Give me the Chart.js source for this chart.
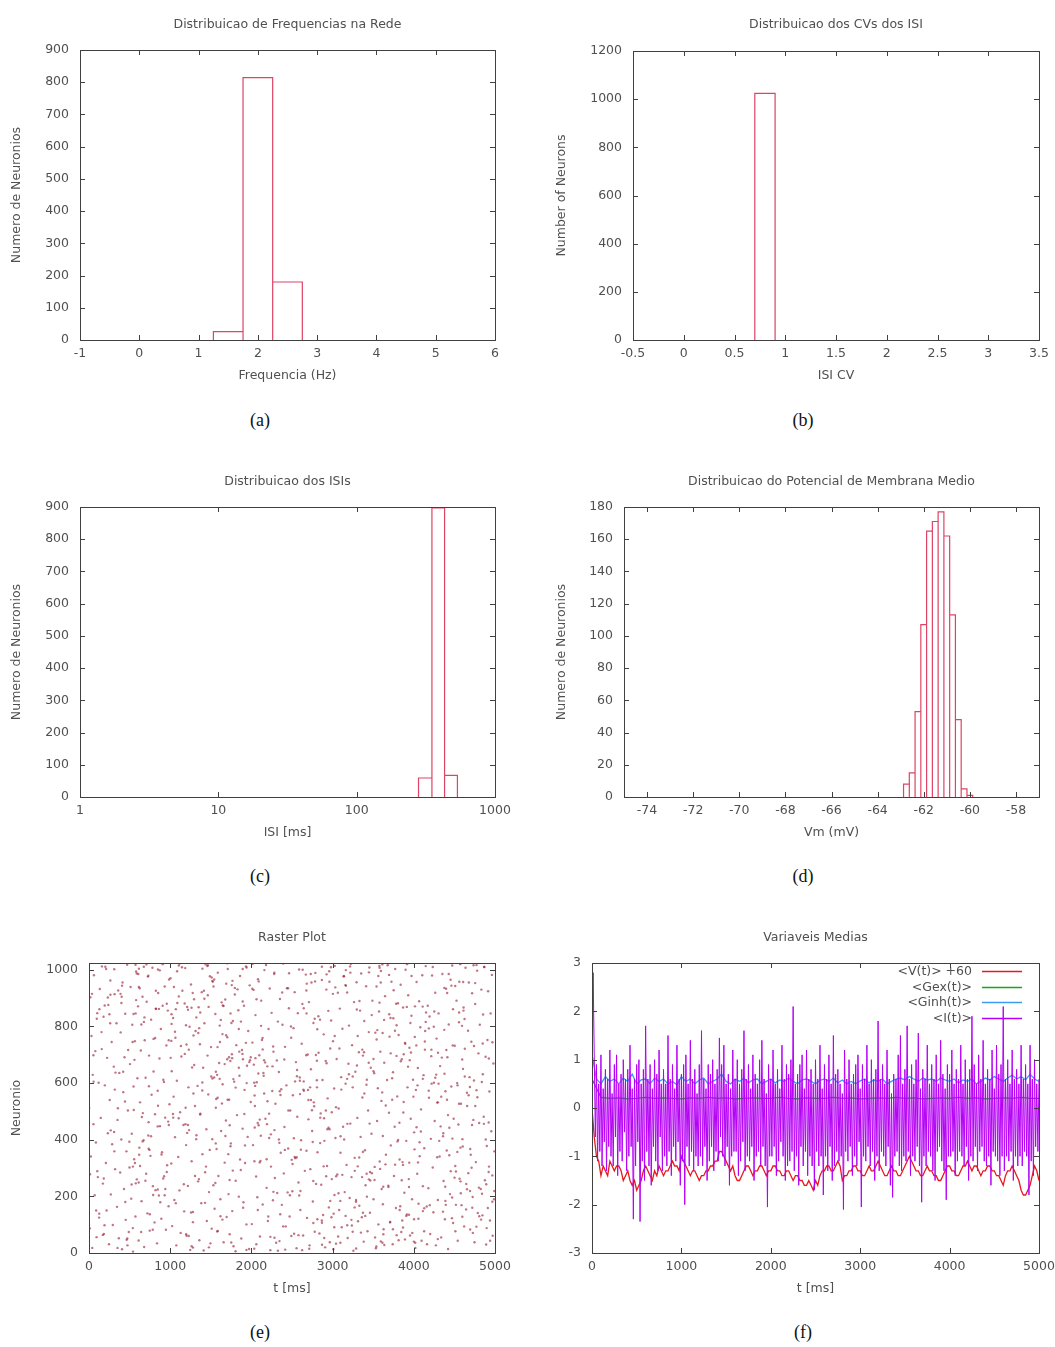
<!DOCTYPE html>
<html>
<head>
<meta charset="utf-8">
<title>Simulacao da Rede</title>
<script src="https://cdn.jsdelivr.net/npm/chart.js@4.4.1/dist/chart.umd.min.js"></script>
<style>
  body { margin: 0; background: #fff; }
  #page { position: relative; width: 1055px; height: 1347px; overflow: hidden; }
  canvas { position: absolute; }
  .caption {
    position: absolute; width: 80px; margin-left: -40px; text-align: center;
    font-family: 'Liberation Serif', 'DejaVu Serif', serif; font-size: 18px; line-height: 20px; color: #111;
  }
</style>
</head>
<body>
<div id="page">
  <canvas id="chartA" width="527" height="400" style="left:0;top:0"></canvas>
  <canvas id="chartB" width="528" height="400" style="left:527px;top:0"></canvas>
  <canvas id="chartC" width="527" height="400" style="left:0;top:456px"></canvas>
  <canvas id="chartD" width="528" height="400" style="left:527px;top:456px"></canvas>
  <canvas id="chartE" width="527" height="400" style="left:0;top:912px"></canvas>
  <canvas id="chartF" width="528" height="400" style="left:527px;top:912px"></canvas>
  <div class="caption" style="left:260px;top:410px">(a)</div>
  <div class="caption" style="left:803px;top:410px">(b)</div>
  <div class="caption" style="left:260px;top:866px">(c)</div>
  <div class="caption" style="left:803px;top:866px">(d)</div>
  <div class="caption" style="left:260px;top:1322px">(e)</div>
  <div class="caption" style="left:803px;top:1322px">(f)</div>
</div>
<script>
// Data: (a) firing rate histogram
const freqEdges = [1.25, 1.75, 2.25, 2.75];
const freqCounts = [26, 814, 180];
const freqTicksX = [-1, 0, 1, 2, 3, 4, 5, 6];
const freqTicksY = [0, 100, 200, 300, 400, 500, 600, 700, 800, 900];

// Data: (b) ISI CV histogram
const cvEdges = [0.7, 0.9];
const cvCounts = [1024];
const cvTicksX = [-0.5, 0, 0.5, 1, 1.5, 2, 2.5, 3, 3.5];
const cvTicksY = [0, 200, 400, 600, 800, 1000, 1200];

// Data: (c) ISI histogram (log x)
const isiEdges = [280, 350, 432, 535];
const isiCounts = [59, 897, 67];
const isiTicksX = [1, 10, 100, 1000];
const isiTicksY = [0, 100, 200, 300, 400, 500, 600, 700, 800, 900];

// Data: (d) mean membrane potential histogram
const vmEdges = [-62.875, -62.625, -62.375, -62.125, -61.875, -61.625, -61.375,
                 -61.125, -60.875, -60.625, -60.375, -60.125, -59.875];
const vmCounts = [8, 15, 53, 107, 165, 171, 177, 162, 113, 48, 5, 1];
const vmTicksX = [-74, -72, -70, -68, -66, -64, -62, -60, -58];
const vmTicksY = [0, 20, 40, 60, 80, 100, 120, 140, 160, 180];

// Data: (e) raster plot (spike time ms, neuron index)
const rasterTimes = [
  2,10,17,23,31,40,46,55,61,70,78,85,93,102,109,118,126,133,145,157,
  171,179,184,195,201,208,217,223,232,238,246,255,263,269,279,285,293,305,311,322,
  338,345,351,360,367,373,384,390,398,407,413,422,431,437,446,452,461,470,479,490,
  505,512,520,527,533,542,549,556,565,572,580,589,596,604,611,620,629,638,647,659,
  672,679,686,697,704,710,719,725,734,740,748,757,765,771,781,787,795,807,813,824,
  838,846,852,861,868,874,885,891,899,908,914,923,932,938,947,953,962,971,980,991,
  1004,1013,1019,1024,1036,1042,1051,1059,1064,1075,1082,1088,1099,1106,1114,1122,1129,1138,1150,1163,
  1172,1180,1185,1196,1202,1209,1218,1224,1233,1239,1247,1256,1264,1270,1280,1286,1294,1306,1312,1323,
  1337,1344,1350,1359,1366,1372,1383,1389,1397,1406,1412,1421,1430,1436,1445,1451,1460,1469,1478,1489,
  1503,1511,1518,1524,1532,1541,1547,1556,1562,1571,1579,1586,1594,1603,1610,1619,1627,1634,1646,1658,
  1671,1678,1686,1695,1703,1709,1718,1726,1733,1741,1747,1758,1764,1772,1780,1788,1796,1806,1814,1823,
  1839,1845,1853,1860,1869,1875,1884,1892,1898,1909,1915,1922,1933,1939,1946,1954,1961,1972,1979,1992,
  2005,2012,2020,2026,2035,2043,2050,2058,2066,2073,2081,2089,2097,2105,2112,2121,2130,2139,2148,2160,
  2173,2180,2187,2196,2203,2211,2219,2226,2234,2241,2249,2257,2265,2272,2280,2289,2296,2305,2313,2326,
  2339,2346,2352,2361,2368,2375,2383,2391,2399,2407,2414,2423,2431,2438,2446,2453,2462,2471,2479,2490,
  2504,2511,2519,2526,2533,2541,2549,2556,2565,2572,2580,2588,2596,2603,2612,2619,2628,2637,2646,2658,
  2670,2678,2685,2694,2702,2709,2717,2726,2733,2740,2748,2757,2764,2773,2780,2788,2797,2806,2814,2825,
  2838,2845,2853,2860,2868,2876,2883,2891,2899,2908,2915,2923,2932,2939,2947,2954,2963,2971,2980,2991,
  3005,3013,3019,3027,3035,3042,3050,3058,3065,3074,3081,3089,3097,3105,3113,3121,3129,3137,3149,3160,
  3172,3179,3186,3195,3202,3210,3218,3225,3233,3240,3248,3256,3264,3272,3280,3288,3295,3305,3313,3324,
  3338,3345,3352,3360,3367,3374,3383,3390,3398,3406,3413,3422,3430,3437,3446,3453,3461,3470,3479,3490,
  3504,3512,3518,3526,3533,3541,3548,3557,3564,3572,3580,3588,3595,3604,3611,3619,3628,3636,3646,3657,
  3671,3678,3686,3694,3701,3709,3717,3725,3733,3740,3748,3756,3764,3771,3780,3787,3796,3805,3813,3825,
  3838,3846,3852,3861,3868,3875,3884,3891,3899,3907,3914,3923,3931,3938,3946,3954,3962,3971,3979,3990,
  4004,4012,4019,4026,4034,4042,4050,4057,4066,4073,4080,4089,4096,4104,4112,4120,4129,4137,4147,4159,
  4172,4179,4187,4194,4202,4210,4217,4225,4233,4241,4248,4257,4264,4272,4280,4288,4296,4305,4313,4324,
  4337,4345,4352,4360,4367,4375,4383,4390,4398,4406,4414,4422,4430,4438,4446,4453,4462,4470,4479,4491,
  4504,4511,4519,4526,4534,4541,4549,4557,4564,4572,4580,4588,4596,4603,4612,4620,4628,4637,4646,4657,
  4671,4678,4686,4694,4701,4709,4718,4725,4733,4741,4748,4756,4764,4772,4780,4788,4796,4805,4813,4824,
  4838,4845,4853,4861,4868,4876,4884,4891,4899,4907,4915,4922,4931,4938,4946,4954,4962,4971,4980,4993,
  4127,388,2950,1763,4802,615,3391,2208,96,1487,3876,2712,4561,1034,3120,251,1942,4389,707,2533,
  3655,1219,4940,482,2847,1690,3023,4276,159,2391,1105,3768,566,4613,2079,3417,872,1354,4031,2625,
  193,3310,1578,4720,2464,846,3982,1201,2769,4455,37,1845,3539,660,2982,4867,1429,2157,3716,525,
  4288,1006,2631,3891,318,1754,4576,2240,3164,749,1983,4109,2890,443,3625,1287,4991,2016,3456,915,
  2731,4644,1132,3273,574,2455,4018,1671,3807,232,2986,1395,4473,819,3542,2103,4897,1046,3179,1860,
  612,3958,2284,1519,4363,2807,88,3601,1941,4712,1263,3349,2561,730,4185,1618,2926,4536,356,3084,
  3823,1477,2675,4252,925,3107,1796,4829,2412,537,3689,1168,2035,4421,3237,683,1896,4058,2784,1320,
  2139,4695,402,3374,1563,2870,4147,1037,3516,2283,4783,790,1689,3020,4330,1415,2507,3929,128,2966,
  4472,1806,3247,675,2558,3788,1219,4924,2061,315,3465,1644,4003,2734,958,3142,4606,1511,2318,3871,
  1106,3044,4378,2192,588,3708,1932,4840,2599,1370,3290,764,4215,2037,3593,1257,4691,2811,464,3950,
  2492,795,4071,1648,3329,4757,1085,2921,3744,540,2268,4510,1441,3182,4967,861,2046,3576,1715,4298,
  3201,1533,4598,2344,676,3852,1974,4163,2677,1190,3423,548,4886,2137,3068,1778,4430,958,2702,3634,
  745,2867,4246,1396,3637,2011,4922,1229,3289,580,2563,4052,1893,3743,2349,1017,4655,2936,1542,3460,
  4151,2218,847,3563,1724,4806,2609,399,3995,1281,3026,4519,2085,1463,3858,651,2780,4318,1890,3215,
  1637,3789,2452,4967,1014,3098,4483,1805,2644,3941,731,2198,4112,1357,3373,2926,573,4771,2041,3578,
  2869,560,3944,1743,4297,2379,1196,3616,4892,2116,849,3271,4655,1583,2755,4014,1264,3503,2271,4608,
  407,2589,4184,3096,1473,3867,2030,4736,1188,3402,2488,4539,1732,3158,642,2917,4401,1921,3697,1069,
  3484,1871,2763,4628,975,3219,1556,4305,2416,3782,618,2169,4987,1305,3033,2580,4140,1680,3917,2358,
  1992,4437,3140,878,2723,4001,1623,3363,4849,2284,1145,3826,2645,499,4265,1829,3523,2990,1346,4579,
  3009,1421,4717,2538,3688,1059,4233,2812,1707,3445,4926,2090,785,3965,1561,2679,4394,3248,1913,624,
  4594,2355,1296,3752,2897,4087,1851,3328,607,2474,4675,1178,3594,2151,4502,1397,2848,3833,982,4046,
  1743,3972,2604,4409,1322,3180,2050,4863,823,3651,2233,4136,1609,3095,4772,2523,1069,3419,2794,4296,
  2961,1209,3867,4668,2102,3504,1458,4197,2746,3914,940,2405,4574,1767,3232,2641,4968,1495,3713,2078,
  4359,2827,1657,3586,4111,1117,2971,3734,2338,4756,1586,3309,2496,4219,1893,3624,2156,4484,1277,3042,
  1505,3447,211,4034,3160,823,2697,1752,3895,541,4411,1368,3073,645,2260,1939,3799,614,4912,1613,
  3331,472,4557,815,3770,986,4128,1520,3482,309,4727,1702,3163,576,4338,1845,3941,735,4463,57,
  2188,261,3619,1464,2895,695,3387,2063,170,1584,3550,932,4850,268,3696,1643,54,3298,474,4599,
  3813,983,4376,125,2597,1016,1771,351,4741,850,3579,1902,312,3004,421,4512,663,2119,182,3448,
  4693,326,2326,907,4475,1760,3613,102,2039,1280,4625,497,2682,1229,3840,551,4387,154,2868,893,
  1567,4832,629,3300,191,4558,1733,2958,447,3366,14,2808,1702,3614,1195,4009,264,3908,738,2762
];
const rasterNeurons = [
  512,87,903,341,766,18,629,455,981,204,713,390,56,847,268,601,139,932,477,720,
  245,834,67,592,1011,318,150,689,423,876,31,540,962,207,745,384,99,658,1002,296,
  811,163,470,927,52,636,284,779,401,13,955,568,226,691,845,117,359,1018,503,74,
  667,939,192,421,806,5,588,331,748,129,994,260,617,871,44,372,532,715,183,905,
  398,21,751,619,280,887,140,976,462,697,79,343,824,559,1007,236,641,108,490,862,
  34,573,918,203,687,448,791,121,356,1020,263,604,941,478,82,733,310,856,165,525,
  970,316,642,95,830,552,187,409,760,27,608,883,339,1015,221,497,71,694,926,452,
  147,703,1006,381,61,869,237,585,434,799,11,948,324,655,109,563,896,272,784,416,
  590,253,868,45,737,492,176,921,349,654,9,811,285,1019,437,113,697,560,215,977,
  727,86,402,958,239,620,156,844,513,367,76,990,272,671,803,130,431,885,596,38,
  319,895,468,127,762,1003,208,541,66,678,387,946,148,819,24,605,913,255,734,487,
  857,199,626,978,293,51,717,439,160,873,576,318,1012,101,661,410,784,14,945,533,
  102,743,381,929,15,519,840,270,603,197,967,451,698,58,325,891,752,171,636,999,
  474,1017,230,659,113,791,406,934,57,305,848,572,186,711,985,265,527,36,680,817,
  639,42,897,354,578,170,806,1022,281,445,728,94,592,935,214,369,864,129,503,760,
  218,557,794,68,921,335,674,17,481,847,249,1001,620,152,398,739,879,62,573,290,
  983,361,124,701,540,886,27,296,649,955,431,182,812,518,75,989,244,610,356,836,
  69,824,493,241,964,611,134,772,396,20,678,930,307,546,855,161,437,722,1009,261,
  748,139,581,1014,406,33,685,277,919,510,152,863,354,621,91,792,446,977,215,598,
  311,920,53,668,803,194,457,1021,268,734,585,8,886,336,640,181,956,477,112,709,
  856,410,987,126,549,697,40,819,363,239,942,612,77,503,780,1008,286,654,421,891,
  190,635,304,778,17,941,466,582,101,853,323,711,996,226,567,413,84,672,907,347,
  611,1016,238,495,764,110,380,958,617,31,829,272,446,1003,159,696,553,882,45,330,
  947,74,684,321,867,533,213,742,1000,396,136,585,910,261,725,62,474,838,190,612,
  426,763,18,576,957,280,653,121,889,342,797,507,43,981,236,628,370,718,1013,164,
  873,229,548,835,67,403,718,980,302,144,601,466,919,27,757,531,187,846,396,660,
  55,690,985,412,254,788,119,571,933,362,691,14,807,442,208,965,588,123,733,474,
  732,307,170,891,600,43,454,815,262,1020,527,169,683,376,856,94,623,1007,244,519,
  282,955,621,83,347,746,917,198,470,609,38,879,321,575,997,141,705,459,806,226,
  604,133,842,481,1010,257,693,30,378,752,924,286,570,115,846,430,982,61,669,359,
  77,915,442,688,231,1004,563,129,827,364,702,15,958,491,276,843,600,184,1019,339,
  521,859,43,717,388,951,205,630,1012,94,476,785,318,867,152,594,998,261,733,10,
  874,306,629,160,988,447,71,736,532,289,915,654,23,394,821,1010,177,563,705,242,
  338,689,1000,48,577,812,253,419,944,137,681,870,306,535,66,768,219,1021,457,612,
  985,154,731,290,846,503,36,667,399,902,126,574,1015,222,754,471,88,939,615,330,
  249,812,54,961,423,679,150,537,1008,301,866,72,624,415,793,190,984,357,511,722,
  460,20,698,853,271,577,936,118,364,745,1023,243,601,487,97,832,684,174,959,402,
  719,367,905,142,640,29,816,478,258,990,550,205,769,91,447,926,314,658,861,38,
  196,584,75,1011,338,804,452,687,31,914,256,773,119,540,880,401,650,973,212,496,
  906,271,633,455,987,108,742,209,561,849,16,412,695,324,955,143,586,790,47,681,
  60,756,391,874,167,519,995,271,638,88,729,943,305,456,181,862,590,1014,349,707,
  631,941,128,389,816,257,674,31,927,513,199,844,401,759,58,614,985,286,472,823,
  364,115,799,602,28,933,461,718,187,893,646,320,1003,84,571,809,225,437,966,142,
  849,492,224,978,691,130,365,883,552,19,766,288,634,910,115,480,827,341,703,1012,
  528,63,935,274,749,412,861,6,606,233,979,536,148,794,357,670,1018,93,443,884,
  107,682,319,846,532,920,66,777,243,414,1001,161,566,727,392,871,24,685,216,957,
  944,203,573,36,869,311,665,1016,455,131,800,592,258,946,74,503,717,380,843,176,
  282,817,106,721,464,990,247,598,12,880,347,673,190,519,938,63,784,413,1020,558,
  691,345,977,179,585,40,823,268,740,434,1009,152,864,302,619,931,55,497,777,211,
  13,898,452,606,233,781,1010,119,541,672,305,959,82,708,387,846,170,623,491,935,
  802,137,664,928,53,429,711,337,985,204,557,881,41,626,266,1004,478,165,751,592,
  377,978,219,541,832,98,688,456,926,313,10,747,615,184,1017,405,861,280,699,49,
  958,424,90,785,320,642,1013,169,504,869,226,683,372,961,117,577,744,34,830,459,
  146,707,872,297,615,1022,184,541,401,953,78,766,329,598,888,234,681,106,918,515,
  623,260,1003,444,131,863,576,37,739,305,918,489,211,807,659,11,394,939,159,745,
  890,51,527,759,312,966,158,616,840,427,71,684,999,246,552,791,135,368,944,605,
  331,811,172,1016,476,255,709,896,64,548,787,204,631,433,982,118,698,860,27,402,
  770,452,936,125,608,843,291,18,731,520,1007,179,359,915,640,77,494,802,263,991,
  219,637,8,873,404,702,1019,289,556,145,826,393,951,60,677,505,234,780,1011,348,
  544,930,307,662,98,849,451,995,180,718,278,585,1023,36,804,366,912,131,589,254
];
const rasterTicksX = [0, 1000, 2000, 3000, 4000, 5000];
const rasterTicksY = [0, 200, 400, 600, 800, 1000];

// Data: (f) mean variables, each sampled every stepMs
const meanLabels = ['<V(t)> +60', '<Gex(t)>', '<Ginh(t)>', '<I(t)>'];
const meanVStepMs = 25;
const meanV = [
  0.0, -0.6, -1.0, -1.1, -1.4, -1.2, -1.3, -1.4,
  -1.1, -1.2, -1.3, -1.2, -1.2, -1.3, -1.5, -1.4,
  -1.3, -1.5, -1.6, -1.5, -1.7, -1.6, -1.5, -1.3,
  -1.2, -1.3, -1.4, -1.5, -1.3, -1.4, -1.2, -1.3,
  -1.4, -1.3, -1.3, -1.2, -1.1, -1.2, -1.2, -1.3,
  -1.0, -1.1, -1.2, -1.3, -1.4, -1.3, -1.3, -1.4,
  -1.5, -1.4, -1.4, -1.3, -1.3, -1.2, -1.2, -1.1,
  -1.1, -0.9, -0.9, -1.0, -1.1, -1.2, -1.3, -1.2,
  -1.4, -1.5, -1.5, -1.4, -1.3, -1.2, -1.2, -1.3,
  -1.4, -1.3, -1.3, -1.2, -1.2, -1.3, -1.4, -1.3,
  -1.3, -1.2, -1.2, -1.3, -1.3, -1.4, -1.4, -1.3,
  -1.3, -1.4, -1.5, -1.4, -1.4, -1.5, -1.5, -1.6,
  -1.6, -1.5, -1.6, -1.7, -1.5, -1.6, -1.4, -1.3,
  -1.3, -1.2, -1.2, -1.3, -1.3, -1.2, -1.1, -1.2,
  -1.5, -1.4, -1.4, -1.3, -1.3, -1.2, -1.2, -1.3,
  -1.3, -1.4, -1.4, -1.3, -1.2, -1.3, -1.3, -1.2,
  -1.1, -1.2, -1.3, -1.4, -1.4, -1.3, -1.2, -1.3,
  -1.3, -1.4, -1.4, -1.3, -1.2, -1.1, -1.0, -1.1,
  -1.2, -1.3, -1.3, -1.4, -1.4, -1.3, -1.2, -1.3,
  -1.3, -1.4, -1.4, -1.5, -1.5, -1.4, -1.3, -1.2,
  -1.2, -1.3, -1.3, -1.4, -1.4, -1.3, -1.2, -1.2,
  -1.1, -1.2, -1.3, -1.2, -1.2, -1.3, -1.4, -1.3,
  -1.3, -1.2, -1.2, -1.3, -1.3, -1.4, -1.4, -1.5,
  -1.6, -1.4, -1.3, -1.3, -1.2, -1.3, -1.4, -1.5,
  -1.7, -1.8, -1.8, -1.7, -1.6, -1.4, -1.2, -1.3,
  -1.5
];
const meanGexStepMs = 100;
const meanGex = [
  0.6, 0.22, 0.2, 0.21, 0.19, 0.2, 0.22, 0.2, 0.21, 0.2,
  0.19, 0.21, 0.2, 0.22, 0.2, 0.21, 0.19, 0.2, 0.21, 0.2,
  0.2, 0.22, 0.2, 0.19, 0.21, 0.2, 0.2, 0.22, 0.2, 0.21,
  0.19, 0.2, 0.21, 0.2, 0.22, 0.2, 0.21, 0.19, 0.2, 0.21,
  0.2, 0.22, 0.2, 0.21, 0.19, 0.2, 0.21, 0.2, 0.22, 0.2,
  0.2
];
const meanGinhStepMs = 50;
const meanGinh = [
  1.1, 0.6, 0.5, 0.65, 0.55, 0.6, 0.5, 0.62, 0.55, 0.7,
  0.5, 0.58, 0.6, 0.5, 0.62, 0.55, 0.6, 0.5, 0.55, 0.48,
  0.65, 0.55, 0.6, 0.5, 0.58, 0.62, 0.5, 0.55, 0.6, 0.7,
  0.55, 0.5, 0.6, 0.55, 0.62, 0.52, 0.58, 0.6, 0.5, 0.55,
  0.6, 0.52, 0.58, 0.55, 0.62, 0.55, 0.5, 0.58, 0.6, 0.55,
  0.5, 0.57, 0.6, 0.55, 0.62, 0.52, 0.58, 0.5, 0.55, 0.5,
  0.56, 0.6, 0.52, 0.58, 0.55, 0.6, 0.5, 0.55, 0.6, 0.62,
  0.58, 0.65, 0.6, 0.55, 0.62, 0.58, 0.6, 0.55, 0.62, 0.58,
  0.55, 0.6, 0.52, 0.58, 0.55, 0.6, 0.5, 0.55, 0.62, 0.58,
  0.65, 0.6, 0.55, 0.62, 0.68, 0.6, 0.65, 0.58, 0.7, 0.6,
  0.55
];
const meanIStepMs = 12.5;
const meanI = [
  0.2, 2.8, 1.1, -0.6, 0.9, -1.1, 0.5, -0.9, 1.1, -1.2, 0.4, -0.7, 0.8, -1.3, 0.6, -0.8,
  1.2, -1.0, 0.3, -1.2, 0.9, -0.6, 1.1, -1.4, 0.5, -0.9, 0.7, -1.1, 1.0, -0.5, 0.6, -1.3,
  0.8, -1.0, 1.3, -0.8, 0.4, -2.3, 0.6, -1.2, 0.9, -0.7, 1.0, -2.35, 0.5, -1.1, 0.8, -1.5,
  1.7, -0.9, 0.6, -1.2, 0.9, -1.6, 0.4, -0.8, 1.0, -1.1, 0.7, -1.3, 1.2, -0.6, 0.5, -1.3,
  0.8, -1.0, 0.5, -1.2, 1.5, -0.9, 0.6, -1.4, 0.9, -0.8, 0.4, -1.1, 1.3, -0.7, 0.6, -1.6,
  0.7, -1.1, 0.9, -2.0, 1.1, -0.8, 0.5, -1.2, 1.4, -0.9, 0.6, -1.3, 0.8, -1.0, 0.3, -1.2,
  0.9, -1.0, 1.6, -1.2, 0.6, -0.8, 0.4, -1.5, 0.9, -1.1, 0.7, -0.8, 1.0, -1.3, 0.5, -0.9,
  0.8, -1.1, 1.45, -0.6, 0.9, -1.0, 1.3, -1.2, 0.5, -0.8, 0.7, -1.6, 0.4, -1.0, 1.2, -0.9,
  0.6, -0.9, 1.0, -1.4, 0.5, -1.1, 0.8, -0.7, 1.6, -1.3, 0.6, -1.0, 0.9, -1.1, 0.4, -0.8,
  1.1, -1.5, 0.7, -1.0, 0.5, -0.9, 1.0, -1.2, 1.4, -0.8, 0.6, -1.2, 0.3, -2.05, 0.9, -1.0,
  0.6, -1.0, 1.2, -0.8, 0.5, -1.4, 0.8, -1.1, 0.4, -0.7, 1.3, -1.0, 0.6, -1.5, 0.9, -1.2,
  0.7, -1.1, 1.0, -0.9, 2.1, -1.3, 0.5, -1.0, 0.7, -1.6, 0.9, -0.8, 1.1, -1.2, 0.4, -0.9,
  1.2, -1.4, 0.6, -1.0, 0.8, -1.2, 0.5, -1.7, 1.0, -0.9, 0.6, -1.2, 1.3, -1.0, 0.4, -1.8,
  0.9, -1.0, 0.6, -1.3, 1.1, -0.8, 0.5, -1.5, 1.5, -1.2, 0.7, -0.9, 0.8, -1.1, 0.5, -1.0,
  0.3, -2.1, 1.2, -0.9, 0.6, -1.1, 1.0, -0.8, 0.5, -1.4, 0.7, -1.0, 0.9, -1.2, 1.1, -0.7,
  0.4, -2.05, 0.9, -1.0, 0.6, -1.1, 1.3, -0.8, 0.5, -1.2, 1.0, -0.9, 0.6, -1.5, 0.8, -1.0,
  1.8, -1.3, 0.6, -0.9, 0.9, -1.0, 0.5, -1.2, 1.2, -0.8, 0.6, -1.6, 0.3, -1.85, 0.7, -1.0,
  0.6, -0.9, 1.1, -1.2, 1.5, -1.3, 0.5, -1.0, 0.8, -1.1, 1.7, -0.9, 0.6, -1.4, 0.9, -1.0,
  0.5, -1.1, 1.0, -0.8, 1.55, -1.2, 0.4, -1.95, 0.8, -1.0, 0.6, -1.2, 1.3, -0.9, 0.5, -1.0,
  0.9, -1.3, 0.6, -1.5, 1.1, -0.9, 0.5, -0.8, 1.4, -1.1, 0.7, -1.3, 0.4, -1.9, 0.9, -1.0,
  0.7, -1.0, 1.2, -0.9, 0.5, -1.4, 0.8, -1.1, 0.6, -0.9, 1.3, -1.0, 0.5, -1.2, 1.0, -0.8,
  0.6, -1.5, 0.8, -1.0, 1.9, -1.1, 0.9, -0.8, 0.5, -1.3, 1.1, -0.9, 0.6, -0.8, 1.4, -1.1,
  0.5, -1.2, 0.8, -1.0, 0.6, -1.6, 1.2, -0.9, 0.4, -1.0, 1.3, -1.1, 0.7, -1.4, 0.9, -1.0,
  2.1, -1.3, 0.6, -1.0, 1.0, -1.1, 0.5, -0.9, 1.2, -1.5, 0.6, -1.0, 0.8, -1.2, 0.5, -1.0,
  1.3, -1.2, 0.6, -0.9, 0.9, -1.0, 0.5, -1.8, 1.3, -1.1, 0.6, -1.4, 1.0, -0.8, 0.5, -0.9,
  0.6
];
const meanTicksX = [0, 1000, 2000, 3000, 4000, 5000];
const meanTicksY = [-3, -2, -1, 0, 1, 2, 3];

// Styles
const FONT_FAMILY = "'DejaVu Sans', 'Liberation Sans', sans-serif";
const FONT_SIZE = 12.5;
const HALF_LINE = FONT_SIZE * 1.2 / 2;
const TEXT_COLOR = '#505050';
const FRAME_COLOR = '#404040';
const TICK_LEN = 5;
const HIST_RED = '#dd4466';
const RASTER_DOT = 'rgba(150, 25, 50, 0.6)';
const MEAN_COLORS = ['#e8191e', '#1aa31a', '#3b9cf0', '#b400f5'];
const MEAN_WIDTHS = [1.3, 1.3, 1.3, 1];

Chart.defaults.font.family = FONT_FAMILY;
Chart.defaults.font.size = FONT_SIZE;
Chart.defaults.color = TEXT_COLOR;

// Panel geometry (canvas coordinates)
const geoA = { width: 527, height: 400, plotLeft: 80, plotRight: 495, plotTop: 50, plotBottom: 340, titleY: 25, yTitleX: 17, xTitleY: 376 };
const geoB = { width: 528, height: 400, plotLeft: 106, plotRight: 512, plotTop: 51, plotBottom: 340, titleY: 25, yTitleX: 35, xTitleY: 376 };
const geoC = { width: 527, height: 400, plotLeft: 80, plotRight: 495, plotTop: 51, plotBottom: 341, titleY: 26, yTitleX: 17, xTitleY: 377 };
const geoD = { width: 528, height: 400, plotLeft: 97, plotRight: 512, plotTop: 51, plotBottom: 341, titleY: 26, yTitleX: 35, xTitleY: 377 };
const geoE = { width: 527, height: 400, plotLeft: 89, plotRight: 495, plotTop: 51, plotBottom: 341, titleY: 26, yTitleX: 17, xTitleY: 377 };
const geoF = { width: 528, height: 400, plotLeft: 65, plotRight: 512, plotTop: 51, plotBottom: 341, titleY: 26, yTitleX: 0, xTitleY: 377 };

// gnuplot-style border with inward ticks on all four sides
const gnuplotFrame = {
  id: 'gnuplotFrame',
  afterDatasetsDraw(chart) {
    const { ctx, chartArea: a, scales } = chart;
    ctx.save();
    ctx.strokeStyle = FRAME_COLOR;
    ctx.lineWidth = 1;
    ctx.beginPath();
    scales.x.ticks.forEach(t => {
      const px = Math.round(scales.x.getPixelForValue(t.value)) + 0.5;
      ctx.moveTo(px, a.bottom); ctx.lineTo(px, a.bottom - TICK_LEN);
      ctx.moveTo(px, a.top); ctx.lineTo(px, a.top + TICK_LEN);
    });
    scales.y.ticks.forEach(t => {
      const py = Math.round(scales.y.getPixelForValue(t.value)) + 0.5;
      ctx.moveTo(a.left, py); ctx.lineTo(a.left + TICK_LEN, py);
      ctx.moveTo(a.right, py); ctx.lineTo(a.right - TICK_LEN, py);
    });
    ctx.stroke();
    ctx.strokeRect(Math.round(a.left) + 0.5, Math.round(a.top) + 0.5,
                   Math.round(a.right - a.left), Math.round(a.bottom - a.top));
    ctx.restore();
  }
};

// Key inside the top-right corner: right-aligned text, then a line sample
const cornerKey = {
  id: 'cornerKey',
  afterDraw(chart) {
    const { ctx, chartArea: a } = chart;
    ctx.save();
    ctx.font = `${FONT_SIZE}px ${FONT_FAMILY}`;
    ctx.textAlign = 'right';
    ctx.textBaseline = 'middle';
    chart.data.datasets.forEach((ds, i) => {
      const y = Math.round(a.top + 8 + i * 15.7) + 0.5;
      ctx.fillStyle = TEXT_COLOR;
      ctx.fillText(ds.label, a.right - 67, y);
      ctx.strokeStyle = ds.borderColor;
      ctx.lineWidth = 1.5;
      ctx.beginPath();
      ctx.moveTo(a.right - 57, y);
      ctx.lineTo(a.right - 17, y);
      ctx.stroke();
    });
    ctx.restore();
  }
};

// Helpers
function boxOutline(edges, counts) {
  const pts = [];
  counts.forEach((c, i) => {
    pts.push({ x: edges[i], y: 0 }, { x: edges[i], y: c }, { x: edges[i + 1], y: c }, { x: edges[i + 1], y: 0 });
  });
  return pts;
}

function sampled(values, stepMs) {
  return values.map((v, i) => ({ x: i * stepMs, y: v }));
}

function axis(g, cfg, horizontal) {
  return {
    type: cfg.type || 'linear',
    min: cfg.min,
    max: cfg.max,
    grid: { display: false, drawTicks: false },
    border: { display: false },
    afterBuildTicks: s => { s.ticks = cfg.ticks.map(v => ({ value: v })); },
    afterFit: s => {
      if (horizontal) {
        s.height = g.height - g.plotBottom;
        s.paddingLeft = 0;
        s.paddingRight = 0;
      } else {
        s.width = g.plotLeft;
        s.paddingTop = 0;
        s.paddingBottom = 0;
      }
    },
    ticks: {
      padding: horizontal ? 6.5 : 11,
      autoSkip: false,
      maxRotation: 0,
      color: TEXT_COLOR,
      callback: v => String(v)
    },
    title: {
      display: !!cfg.title,
      text: cfg.title,
      color: TEXT_COLOR,
      padding: horizontal
        ? { top: 0, bottom: g.height - g.xTitleY - HALF_LINE }
        : { top: g.yTitleX - HALF_LINE, bottom: 0 }
    }
  };
}

function panelOptions(g, title, xCfg, yCfg) {
  return {
    responsive: false,
    animation: false,
    events: [],
    layout: { padding: { left: 0, top: 0, bottom: 0, right: g.width - g.plotRight } },
    plugins: {
      legend: { display: false },
      tooltip: { enabled: false },
      title: {
        display: true,
        text: title,
        color: TEXT_COLOR,
        fullSize: false,
        font: { size: FONT_SIZE, weight: 'normal' },
        padding: { top: g.titleY - HALF_LINE, bottom: g.plotTop - g.titleY - HALF_LINE }
      }
    },
    scales: { x: axis(g, xCfg, true), y: axis(g, yCfg, false) }
  };
}

function histogram(canvasId, g, title, edges, counts, xCfg, yCfg) {
  new Chart(document.getElementById(canvasId), {
    type: 'line',
    data: {
      datasets: [{
        data: boxOutline(edges, counts),
        borderColor: HIST_RED,
        borderWidth: 1.2,
        pointRadius: 0,
        tension: 0,
        fill: false
      }]
    },
    options: panelOptions(g, title, xCfg, yCfg),
    plugins: [gnuplotFrame]
  });
}

// Build the six panels
histogram('chartA', geoA, 'Distribuicao de Frequencias na Rede', freqEdges, freqCounts,
  { min: -1, max: 6, ticks: freqTicksX, title: 'Frequencia (Hz)' },
  { min: 0, max: 900, ticks: freqTicksY, title: 'Numero de Neuronios' });

histogram('chartB', geoB, 'Distribuicao dos CVs dos ISI', cvEdges, cvCounts,
  { min: -0.5, max: 3.5, ticks: cvTicksX, title: 'ISI CV' },
  { min: 0, max: 1200, ticks: cvTicksY, title: 'Number of Neurons' });

histogram('chartC', geoC, 'Distribuicao dos ISIs', isiEdges, isiCounts,
  { type: 'logarithmic', min: 1, max: 1000, ticks: isiTicksX, title: 'ISI [ms]' },
  { min: 0, max: 900, ticks: isiTicksY, title: 'Numero de Neuronios' });

histogram('chartD', geoD, 'Distribuicao do Potencial de Membrana Medio', vmEdges, vmCounts,
  { min: -75, max: -57, ticks: vmTicksX, title: 'Vm (mV)' },
  { min: 0, max: 180, ticks: vmTicksY, title: 'Numero de Neuronios' });

const spikeCount = Math.min(rasterTimes.length, rasterNeurons.length);
new Chart(document.getElementById('chartE'), {
  type: 'scatter',
  data: {
    datasets: [{
      data: rasterTimes.slice(0, spikeCount).map((t, i) => ({ x: t, y: rasterNeurons[i] })),
      pointRadius: 1.2,
      pointBorderWidth: 0,
      pointBackgroundColor: RASTER_DOT
    }]
  },
  options: panelOptions(geoE, 'Raster Plot',
    { min: 0, max: 5000, ticks: rasterTicksX, title: 't [ms]' },
    { min: 0, max: 1024, ticks: rasterTicksY, title: 'Neuronio' }),
  plugins: [gnuplotFrame]
});

const meanSeries = [
  sampled(meanV, meanVStepMs),
  sampled(meanGex, meanGexStepMs),
  sampled(meanGinh, meanGinhStepMs),
  sampled(meanI, meanIStepMs)
];
new Chart(document.getElementById('chartF'), {
  type: 'line',
  data: {
    datasets: meanSeries.map((pts, i) => ({
      label: meanLabels[i],
      data: pts,
      borderColor: MEAN_COLORS[i],
      borderWidth: MEAN_WIDTHS[i],
      pointRadius: 0,
      tension: 0,
      fill: false,
      order: i === 3 ? 0 : 1
    }))
  },
  options: panelOptions(geoF, 'Variaveis Medias',
    { min: 0, max: 5000, ticks: meanTicksX, title: 't [ms]' },
    { min: -3, max: 3, ticks: meanTicksY, title: '' }),
  plugins: [gnuplotFrame, cornerKey]
});
</script>
</body>
</html>
